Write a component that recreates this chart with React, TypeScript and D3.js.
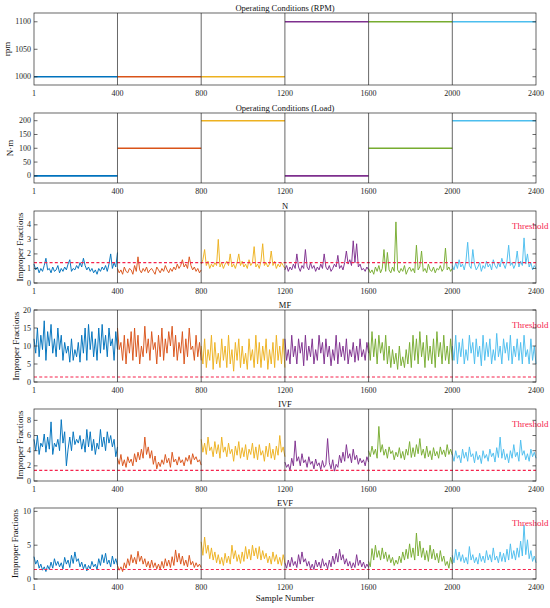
import { useEffect, useRef } from "react"
import * as d3 from "d3"

// segment colours (MATLAB default order)
const segColors = ["#0072BD", "#D95319", "#EDB120", "#7E2F8E", "#77AC30", "#4DBEEE"]
const segBounds = [1, 400, 800, 1200, 1600, 2000, 2400]
const xTicks = [1, 400, 800, 1200, 1600, 2000, 2400]

const rpmValues = [1000, 1000, 1000, 1100, 1100, 1100]
const loadValues = [0, 100, 200, 0, 100, 200]
const threshold = 1.4

const nSeries = [
  [1.3,0.9,1.1,0.7,1.0,0.8,1.2,1.7,0.9,1.0,0.7,1.1,0.8,0.9,1.2,0.7,1.0,0.8,1.1,0.9,1.3,1.6,0.8,1.0,0.9,1.2,1.0,1.4,1.1,1.7,1.2,0.9,1.1,0.8,1.0,0.7,0.9,0.6,1.0,0.8,1.1,0.9,1.2,0.8,1.3,2.0,1.0,1.4,1.1,2.1],
  [1.0,0.7,0.9,0.6,1.1,0.8,0.7,1.0,0.9,0.6,1.2,0.8,1.8,0.9,0.7,1.0,0.8,1.1,0.7,0.9,1.0,0.8,0.6,1.1,0.9,0.7,1.0,0.8,1.2,0.9,0.7,1.0,0.8,1.1,0.9,1.3,1.0,1.2,1.6,1.1,1.3,1.0,1.8,1.2,0.9,1.1,0.8,1.0,0.7,0.9],
  [1.3,1.6,2.3,1.2,1.5,1.0,1.3,1.1,1.4,1.2,3.0,1.1,1.4,1.0,1.3,1.5,1.2,2.0,1.1,1.3,1.0,1.4,2.0,1.2,1.5,1.1,1.3,1.0,1.6,1.2,1.4,2.5,1.1,1.3,1.0,1.5,2.7,1.2,1.4,1.1,1.3,2.2,1.2,1.5,1.0,1.3,1.1,1.4,1.2,1.0],
  [0.9,1.2,0.8,1.1,0.9,1.3,1.0,2.0,1.1,0.8,1.2,1.0,2.3,1.1,0.9,1.4,1.0,1.2,0.8,1.1,0.9,1.3,1.0,2.0,1.1,0.9,1.2,0.8,1.0,1.3,1.1,1.9,1.0,1.2,0.9,1.4,2.2,1.3,1.6,1.2,2.9,1.4,2.7,1.1,1.3,0.9,1.0,0.8,1.1,0.9],
  [1.0,0.7,0.9,0.6,1.1,0.8,1.2,0.7,1.0,2.3,0.8,2.1,0.9,0.7,1.1,0.8,4.2,0.9,0.7,1.0,0.8,1.2,0.6,0.9,1.1,0.8,1.0,0.7,2.6,0.9,1.1,2.2,0.8,1.0,0.7,1.3,0.9,0.8,1.1,0.7,1.0,0.9,1.2,0.8,1.0,2.4,0.9,1.1,0.8,1.0],
  [1.2,0.9,1.4,1.0,1.6,1.1,1.3,0.9,1.5,2.8,1.2,1.0,2.3,1.3,0.9,1.1,1.4,0.8,1.2,1.0,1.5,1.1,1.3,0.9,1.6,1.2,1.0,1.4,1.1,1.7,1.3,1.0,1.5,2.6,1.2,1.4,1.0,1.3,2.2,1.1,1.5,1.2,3.1,1.3,2.0,1.1,1.4,0.9,1.2,1.0],
]

const mfSeries = [
  [12,8,15,7,13,9,17,6,14,10,16,8,12,7,15,9,13,6,11,8,10,5.5,12,6,9,7,11,5.5,13,8,15,6,16,9,14,7,12,6,15,8,16,9,13,7,15,10,12,6,14,9],
  [15,9,11,6,13,5,12,8,14,6,15,7,13,5,10,7,15.5,8,12,6,14,9,11,5,13,7,15,6,12,8,14,10,15.5,7,13,6,11,8,14,5,12,7,15,9,10,6,13,7,11,6],
  [10,5,12,4,9,6,13,3.5,11,5,8,4,12,6,10,4,13,5,9,3,11,6,12,4,10,5,8,3.5,12,6,9,4,13,5,11,4,10,6,12,3.5,9,5,11,4,13,6,10,5,12,4],
  [12,6,9,5,13,7,10,5,12,8,11,4.5,13,6,10,7,12,5,9,6,13,8,11,5,12,7,10,4.5,9,6,13,5,11,7,10,6,12,5,9,7,11,5.5,10,6,12,7,9,6,11,8],
  [11,6,14,7,12,5,13,8,11,6,13,5,10,4,9,5,8,3.5,10,4.5,7,4,9,5,11,4,13,6,12,5,14,7,11,4,13,6,10,5,12,4,14,7,11,5,13,6,10,5,12,6],
  [10,6,13,5,11,7,12,5,9,6,13,8,11,5,12,7,10,4.5,13,6,11,7,12,5,9,6,13.5,7,10,5,12,8,11,6,13,5,10,7,12,6,11,5,13,7,9,5,12,6,10,5],
]

const ivfSeries = [
  [5.5,4,6,3.5,5,4.5,6.2,3.8,5.8,4.2,7.8,3.5,5,4.5,5.5,4,8.1,5,6.5,2,4.2,5.8,4,6.5,4.8,5.5,5,6,4.2,5.5,3.8,6.8,4.5,6.5,4,5.5,3.5,5,4.2,6.8,4.5,5.8,4,6.5,5,6,4.5,5.5,3.2,4.5],
  [3,2.2,3.5,2,2.8,1.8,3.2,2.4,2.9,2,3.6,2.5,3.8,2.8,4.2,3,5.8,3.5,4.5,3,4,2.2,3.3,1.6,2.5,1.9,2.8,2.2,3.5,2.4,3,1.8,3.8,2.5,2.9,2.1,3.2,2.4,2.8,2,3.1,2.6,3.4,2.2,3.6,2.8,3.2,2.5,2.8,2.1],
  [5.5,3.8,5,3.5,5.8,4,4.5,3.2,5.2,3.6,4.8,3,5.8,3.8,4.5,3.2,5,3.6,4.2,2.6,4.6,3.4,5.2,3,4.4,3.2,4.8,2.8,4.2,3.5,5,3,4.5,2.8,4.8,3.4,4,2.6,4.6,3.2,5,3,4.2,2.8,4.6,3.4,6,3.8,4.5,3.2],
  [2.5,1.8,2.2,1.4,3,2,5.3,2.6,3.2,2,3.6,2.4,2.8,1.8,3.2,2.2,2.6,1.6,2.9,2,2.4,1.5,2.7,1.8,2.2,5.6,2.4,1.6,2.8,1.3,2.2,1.8,3.4,2.4,3.8,2.6,4.8,3,3.6,2.4,4.2,2.8,3.4,2.2,3,2.4,2.8,2,3.2,2.5],
  [4,3.2,4.6,3.5,4.2,3,7.2,3.8,4.8,3.4,4.2,3,4.5,3.6,4,2.8,3.8,3.2,4.4,3,3.9,2.8,4.2,3.4,5.2,3.1,4.4,3.2,4.8,3.6,5.6,3.4,4.2,3,4.6,3.2,4,2.8,4.4,3.3,3.9,3,4.5,3.5,4.1,3.2,4.8,3.5,4.2,3.4],
  [3.5,2.6,4,3,3.4,2.4,4.2,3,3.8,2.6,4.5,3.2,3.6,2.4,3.9,2.8,3.4,2.3,4,3,3.5,2.6,4.2,3.2,3.7,2.5,4.4,3.1,5.8,3,4.2,2.8,3.6,2.4,4,3,4.8,3.2,3.8,2.6,5.4,3.4,4,2.8,3.6,2.6,4.2,3.2,3.8,3],
]

const evfSeries = [
  [3.3,2.2,2.8,1.6,2.2,1.3,1.8,1.1,2,1.4,2.5,1.6,3,2,2.6,1.8,2.4,1.5,3.2,2.2,2.8,1.7,3.5,2.3,4,2.6,3,1.8,2.5,1.5,2.2,1.2,2,1.5,2.6,1.8,2.2,1.4,3,2,3.6,2.4,3.8,2.2,2.8,1.8,3.4,2.2,3,2],
  [2,1.3,1.8,1.1,2.4,1.6,3,2,3.6,2.4,3.2,2.2,4.1,2.6,3.4,2.2,3,1.8,2.6,1.6,2.8,1.7,2.4,1.5,2.2,1.4,2.6,1.6,3,1.9,2.8,1.7,3.3,2,4.3,2.5,3.8,2.2,3.4,2,2.8,1.8,3.5,2.1,2.6,1.7,2.4,1.8,2.2,1.7],
  [5.5,3.5,6.2,3.8,5,3,4.6,2.8,4,2.4,3.6,2.2,3.2,2,3.8,2.4,3.4,2.2,5,3,4.2,2.6,3.6,2.3,4,2.6,4.8,3,4.4,2.8,5,3.4,4.6,3,4.8,2.8,4.2,3,3.8,2.4,3.4,2.2,4,2.6,3.6,2.2,3.2,2,3.6,2.4],
  [2.4,1.6,2.8,1.8,3.2,2,2.6,1.7,3.6,2.2,4,2.5,3,1.9,2.6,1.5,2.2,1.4,2.8,1.8,2.5,1.6,3,1.9,2.4,1.5,2.8,1.8,3.4,2.2,3.8,2.5,4.4,2.8,3.6,2.2,3,1.9,2.6,1.6,2.4,1.7,3.6,2,2.8,1.8,2.5,1.6,2.2,1.7],
  [2.6,1.8,4.5,2.8,5,3.2,4.2,2.8,4.6,3,4,2.6,3.6,2.4,3.2,2,2.8,2.2,3.4,2.4,4,2.8,4.4,3,5.2,3.2,4.6,2.8,6.8,3.4,5.6,3.2,4.6,2.8,4.2,2.6,5,3,4.4,2.8,3.8,2.4,4.2,2.6,3.4,2,2.6,1.6,3.2,2.2],
  [3.5,2.4,4.4,2.8,4,2.6,3.6,2.4,3.2,2.2,4.8,2.8,3.6,2.4,3.2,2.2,3.8,2.6,3.4,2.4,4.2,2.8,3.6,2.5,4.6,2.8,3.4,2.4,4,2.6,3.8,2.5,4.4,2.8,5.2,3,4.2,2.8,4.6,3.2,5.6,3.4,8,3.6,5.8,3,4.2,2.6,3.4,2.4],
]

interface Panel {
  title: string
  top: number
  bottom: number
  domain: [number, number]
  ticks: number[]
  ylabel: string
  labelX: number
  step?: number[]
  series?: number[][]
}

const panels: Panel[] = [
  { title: "Operating Conditions (RPM)", top: 13, bottom: 85, domain: [985, 1116], ticks: [1000, 1050, 1100], ylabel: "rpm", labelX: 7, step: rpmValues },
  { title: "Operating Conditions (Load)", top: 113, bottom: 183, domain: [-26, 228], ticks: [0, 50, 100, 150, 200], ylabel: "N·m", labelX: 10, step: loadValues },
  { title: "N", top: 211, bottom: 283, domain: [0, 4.95], ticks: [0, 1, 2, 3, 4], ylabel: "Improper Fractions", labelX: 20, series: nSeries },
  { title: "MF", top: 310, bottom: 382, domain: [0, 20], ticks: [0, 5, 10, 15, 20], ylabel: "Improper Fractions", labelX: 15.5, series: mfSeries },
  { title: "IVF", top: 409, bottom: 481, domain: [0, 9.5], ticks: [0, 2, 4, 6, 8], ylabel: "Improper Fractions", labelX: 19.5, series: ivfSeries },
  { title: "EVF", top: 508, bottom: 579, domain: [0, 10.5], ticks: [0, 5, 10], ylabel: "Improper Fractions", labelX: 15, series: evfSeries },
]

const W = 550
const H = 608
const left = 34
const right = 536
const font = "'Liberation Serif', 'Times New Roman', serif"
const axisColor = "#262626"
const red = "#f5234d"

export default function App() {
  const svgRef = useRef<SVGSVGElement>(null)

  useEffect(() => {
    if (!svgRef.current) return
    const svg = d3.select(svgRef.current)
    svg.selectAll("*").remove()

    const x = d3.scaleLinear().domain([1, 2400]).range([left, right])

    panels.forEach((p) => {
      const y = d3.scaleLinear().domain(p.domain).range([p.bottom, p.top])
      const g = svg.append("g")

      // data
      if (p.step) {
        p.step.forEach((v, k) => {
          g.append("line")
            .attr("x1", x(segBounds[k]))
            .attr("x2", x(segBounds[k + 1]))
            .attr("y1", y(v))
            .attr("y2", y(v))
            .attr("stroke", segColors[k])
            .attr("stroke-width", 1.6)
        })
      }
      if (p.series) {
        p.series.forEach((vals, k) => {
          const s0 = segBounds[k]
          const s1 = segBounds[k + 1]
          const line = d3
            .line<number>()
            .x((_, i) => x(s0 + (i * (s1 - s0)) / (vals.length - 1)))
            .y((d) => y(d))
          g.append("path")
            .attr("d", line(vals))
            .attr("fill", "none")
            .attr("stroke", segColors[k])
            .attr("stroke-width", 0.95)
            .attr("stroke-linejoin", "round")
        })
        // threshold
        g.append("line")
          .attr("x1", left)
          .attr("x2", right)
          .attr("y1", y(threshold))
          .attr("y2", y(threshold))
          .attr("stroke", red)
          .attr("stroke-width", 1.1)
          .attr("stroke-dasharray", "3,2.2")
        g.append("text")
          .attr("x", 512)
          .attr("y", p.top + 18)
          .attr("fill", red)
          .attr("font-family", font)
          .attr("font-size", "9px")
          .text("Threshold")
      }

      // condition boundaries
      segBounds.slice(1, -1).forEach((b) => {
        g.append("line")
          .attr("x1", x(b))
          .attr("x2", x(b))
          .attr("y1", p.top)
          .attr("y2", p.bottom)
          .attr("stroke", axisColor)
          .attr("stroke-width", 0.7)
      })

      // box
      g.append("rect")
        .attr("x", left)
        .attr("y", p.top)
        .attr("width", right - left)
        .attr("height", p.bottom - p.top)
        .attr("fill", "none")
        .attr("stroke", axisColor)
        .attr("stroke-width", 0.7)

      // y ticks, both sides, pointing in
      p.ticks.forEach((t) => {
        const ty = y(t)
        g.append("line").attr("x1", left).attr("x2", left + 3.5).attr("y1", ty).attr("y2", ty)
          .attr("stroke", axisColor).attr("stroke-width", 0.7)
        g.append("line").attr("x1", right - 3.5).attr("x2", right).attr("y1", ty).attr("y2", ty)
          .attr("stroke", axisColor).attr("stroke-width", 0.7)
        g.append("text")
          .attr("x", left - 3)
          .attr("y", ty)
          .attr("text-anchor", "end")
          .attr("dominant-baseline", "central")
          .attr("fill", axisColor)
          .attr("font-family", font)
          .attr("font-size", "8px")
          .text(String(t))
      })

      // x tick labels
      xTicks.forEach((t) => {
        g.append("text")
          .attr("x", x(t))
          .attr("y", p.bottom + 11)
          .attr("text-anchor", "middle")
          .attr("fill", axisColor)
          .attr("font-family", font)
          .attr("font-size", "8px")
          .text(String(t))
      })

      // title
      g.append("text")
        .attr("x", (left + right) / 2)
        .attr("y", p.top - 2)
        .attr("text-anchor", "middle")
        .attr("fill", "#111")
        .attr("font-family", font)
        .attr("font-size", "8.5px")
        .text(p.title)

      // y label
      g.append("text")
        .attr("transform", `translate(${p.labelX},${(p.top + p.bottom) / 2}) rotate(-90)`)
        .attr("text-anchor", "middle")
        .attr("dominant-baseline", "central")
        .attr("fill", "#111")
        .attr("font-family", font)
        .attr("font-size", "9px")
        .text(p.ylabel)
    })

    svg.append("text")
      .attr("x", (left + right) / 2)
      .attr("y", 601)
      .attr("text-anchor", "middle")
      .attr("fill", "#111")
      .attr("font-family", font)
      .attr("font-size", "9px")
      .text("Sample Number")
  }, [])

  return (
    <div style={{ position: "absolute", left: 0, top: 0, background: "#fff" }}>
      <svg ref={svgRef} width={W} height={H} style={{ display: "block" }} />
    </div>
  )
}
